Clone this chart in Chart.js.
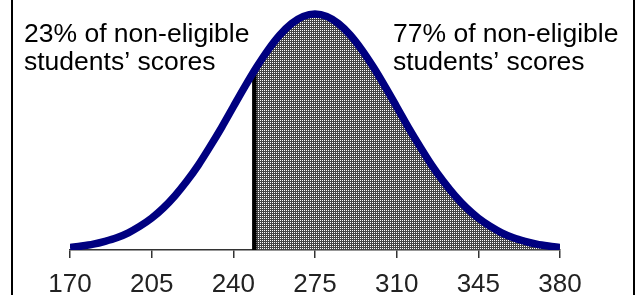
<!DOCTYPE html>
<html>
<head>
<meta charset="utf-8">
<script src="https://cdn.jsdelivr.net/npm/chart.js@4/dist/chart.umd.min.js"></script>
<style>
  body { margin: 0; background: #fff; }
  #wrap { width: 641px; height: 295px; position: relative; }
</style>
</head>
<body>
<div id="wrap"><canvas id="myCanvas" width="641" height="295"></canvas></div>
<script>
// scores along the x axis and the curve height (peak = 100)
var scores = [170, 175, 180, 185, 190, 195, 200, 205, 210, 215, 220, 225, 230, 235, 240, 245, 250, 255, 260, 265, 270,
              275, 280, 285, 290, 295, 300, 305, 310, 315, 320, 325, 330, 335, 340, 345, 350, 355, 360, 365, 370, 375, 380];
var heights = [1.1, 1.7, 2.5, 3.7, 5.2, 7.3, 10.1, 13.5, 17.8, 23.0, 29.1, 36.0, 43.8, 52.0, 60.7, 69.3, 77.5, 84.9, 91.2, 96.0, 99.0,
               100, 99.0, 96.0, 91.2, 84.9, 77.5, 69.3, 60.7, 52.0, 43.8, 36.0, 29.1, 23.0, 17.8, 13.5, 10.1, 7.3, 5.2, 3.7, 2.5, 1.7, 1.1];
var tickLabels = [170, 205, 240, 275, 310, 345, 380];
var cutScore = 249;
var cutHeight = 75.9;
var leftNote = ['23% of non-eligible', 'students\u2019 scores'];
var rightNote = ['77% of non-eligible', 'students\u2019 scores'];

const CHART = document.getElementById('myCanvas').getContext('2d');

// fine dot pattern for the shaded area
function makeDots() {
    var c = document.createElement('canvas');
    c.width = 2; c.height = 2;
    var g = c.getContext('2d');
    g.fillStyle = '#444444';
    g.fillRect(0, 0, 2, 2);
    g.fillStyle = '#ffffff';
    g.fillRect(0, 0, 1, 1);
    return CHART.createPattern(c, 'repeat');
}

var curve = scores.map(function (s, i) { return {x: s, y: heights[i]}; });
var shaded = [{x: cutScore, y: cutHeight}].concat(curve.filter(function (p) { return p.x > cutScore; }));

var notes = {
    id: 'notes',
    afterDraw: function (chart) {
        var ctx = chart.ctx;
        ctx.save();
        ctx.fillStyle = '#000';
        ctx.fillRect(11, 0, 2, 295);
        ctx.fillRect(633, 0, 2, 295);
        ctx.font = '26.5px "Liberation Sans", Arial, sans-serif';
        ctx.textBaseline = 'alphabetic';
        ctx.fillText(leftNote[0], 24, 42);
        ctx.fillText(leftNote[1], 24, 70);
        ctx.fillText(rightNote[0], 393, 42);
        ctx.fillText(rightNote[1], 393, 70);
        ctx.restore();
    }
};

var configure = {
    type: 'line',
    data: {
        datasets: [{
            label: 'curve',
            data: curve,
            borderColor: '#000080',
            borderWidth: 7.5,
            pointRadius: 0,
            cubicInterpolationMode: 'monotone',
            fill: false
        }, {
            label: 'cut',
            data: [{x: cutScore, y: 0}, {x: cutScore, y: cutHeight}],
            borderColor: '#000',
            borderWidth: 4.5,
            pointRadius: 0,
            fill: false
        }, {
            label: 'shaded',
            data: shaded,
            borderWidth: 0,
            borderColor: 'rgba(0,0,0,0)',
            backgroundColor: makeDots(),
            pointRadius: 0,
            cubicInterpolationMode: 'monotone',
            fill: 'origin'
        }]
    },
    options: {
        responsive: false,
        animation: false,
        layout: {padding: {left: 70, right: 81, top: 10, bottom: 0}},
        plugins: {legend: {display: false}, tooltip: {enabled: false}},
        scales: {
            x: {
                type: 'linear',
                min: 170,
                max: 380,
                afterBuildTicks: function (axis) {
                    axis.ticks = tickLabels.map(function (v) { return {value: v}; });
                },
                afterFit: function (axis) {
                    axis.height = 45;
                },
                grid: {drawOnChartArea: false, drawTicks: true, tickLength: 8, color: '#333', lineWidth: 1.5},
                border: {display: true, color: '#333', width: 1.5},
                ticks: {color: '#222', padding: 13, maxRotation: 0, font: {family: 'Liberation Sans', size: 26, lineHeight: 1.1}}
            },
            y: {
                display: false,
                min: 0,
                max: 101.7
            }
        }
    },
    plugins: [notes]
};

window.barChart = new Chart(CHART, configure);
</script>
</body>
</html>
